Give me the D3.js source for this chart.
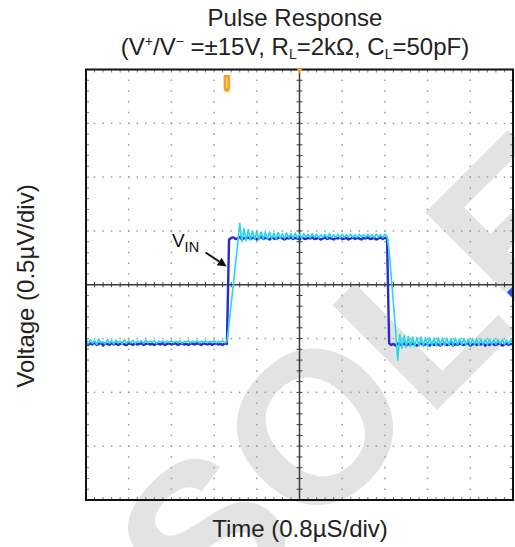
<!DOCTYPE html>
<html><head><meta charset="utf-8">
<script src="https://cdn.jsdelivr.net/npm/d3@7"></script>
<style>
body{margin:0;background:#fff}
svg{display:block;font-family:"Liberation Sans",Arial,Helvetica,sans-serif}
</style>
</head><body>
<svg id="c" width="515" height="547"></svg>
<script>
// ---------- data ----------
const titleLine1 = "Pulse Response";
const xLabel = "Time (0.8µS/div)";
const yLabel = "Voltage (0.5µV/div)";
const watermarkText = "OBSOLETE";
const timeDomain = [0, 8];          // µs  (10 div × 0.8 µs)
const voltDomain = [-2, 2];         // µV  (8 div × 0.5 µV)
const xDivTicks = [0, 0.8, 1.6, 2.4, 3.2, 4.0, 4.8, 5.6, 6.4, 7.2, 8.0];
const yDivTicks = [-2, -1.5, -1, -0.5, 0, 0.5, 1, 1.5, 2];
const minorPerDiv = 5;
const sampleStep = 0.04;            // µs between scope samples
const triggerTime = 2.64;
const ch2Offset = -0.07;
const vinLabelPos = [1.61, 0.35];
const vinArrowFrom = [2.24, 0.30];
const vinArrowTo = [2.635, 0.17];

// VIN trace (dark blue)
const vin = [
-0.54,-0.56,-0.545,-0.555,-0.535,-0.56,-0.55,-0.54,-0.565,-0.545,
-0.55,-0.56,-0.54,-0.555,-0.545,-0.56,-0.55,-0.54,-0.555,-0.56,
-0.545,-0.55,-0.56,-0.54,-0.555,-0.55,-0.545,-0.56,-0.55,-0.545,
-0.555,-0.55,-0.56,-0.545,-0.55,-0.555,-0.545,-0.56,-0.55,-0.545,
-0.555,-0.55,-0.545,-0.56,-0.55,-0.545,-0.555,-0.55,-0.56,-0.545,
-0.55,-0.555,-0.545,-0.55,-0.56,-0.545,-0.55,-0.555,-0.545,-0.56,
-0.55,-0.545,-0.555,-0.55,-0.56,-0.545,-0.55,
0.42,0.435,0.44,0.425,0.43,0.445,0.42,0.435,0.43,0.44,
0.425,0.435,0.44,0.42,0.43,0.445,0.425,0.435,0.43,0.42,
0.44,0.43,0.425,0.435,0.44,0.43,0.42,0.435,0.43,0.44,
0.425,0.435,0.43,0.42,0.44,0.43,0.425,0.435,0.43,0.44,
0.425,0.43,0.435,0.42,0.43,0.44,0.425,0.435,0.43,0.42,
0.435,0.43,0.44,0.425,0.43,0.435,0.42,0.43,0.44,0.425,
0.435,0.43,0.42,0.435,0.43,0.44,0.425,0.43,0.435,0.42,
0.43,0.44,0.425,0.435,0.43,
-0.545,-0.56,-0.55,-0.565,-0.545,-0.555,-0.56,-0.545,-0.565,-0.55,
-0.56,-0.545,-0.555,-0.565,-0.55,-0.545,-0.56,-0.555,-0.545,-0.565,
-0.55,-0.56,-0.545,-0.555,-0.565,-0.55,-0.545,-0.56,-0.555,-0.545,
-0.565,-0.55,-0.56,-0.545,-0.555,-0.56,-0.55,-0.545,-0.565,-0.555,
-0.545,-0.56,-0.55,-0.555,-0.545,-0.565,-0.55,-0.56,-0.545,-0.555,
-0.56,-0.55,-0.545,-0.565,-0.555,-0.545,-0.56,-0.55,-0.555
];

// VOUT trace (cyan)
const vout = [
-0.50,-0.55,-0.51,-0.545,-0.52,-0.555,-0.505,-0.54,-0.53,-0.55,
-0.51,-0.545,-0.52,-0.55,-0.515,-0.54,-0.525,-0.55,-0.51,-0.545,
-0.52,-0.54,-0.515,-0.545,-0.525,-0.535,-0.52,-0.545,-0.515,-0.54,
-0.525,-0.535,-0.52,-0.545,-0.525,-0.535,-0.52,-0.54,-0.525,-0.535,
-0.52,-0.54,-0.525,-0.535,-0.52,-0.545,-0.525,-0.535,-0.52,-0.54,
-0.525,-0.535,-0.52,-0.54,-0.525,-0.535,-0.52,-0.54,-0.525,-0.535,
-0.52,-0.54,-0.525,-0.535,-0.52,-0.54,-0.53,
-0.36,-0.175,0.0,0.19,0.37,0.57,
0.40,0.52,0.41,0.51,0.415,0.50,0.42,0.495,0.415,0.49,
0.425,0.485,0.42,0.49,0.43,0.48,0.425,0.485,0.43,0.475,
0.43,0.48,0.435,0.475,0.43,0.48,0.435,0.47,0.43,0.475,
0.44,0.47,0.435,0.475,0.44,0.47,0.435,0.465,0.44,0.47,
0.435,0.475,0.44,0.465,0.44,0.47,0.435,0.47,0.44,0.465,
0.445,0.47,0.44,0.465,0.44,0.47,0.445,0.465,0.44,0.47,
0.445,0.465,0.44,0.47,0.445,0.465,0.44,0.47,0.45,
0.31,0.07,-0.17,-0.42,-0.70,
-0.46,-0.59,-0.475,-0.58,-0.48,-0.575,-0.485,-0.575,-0.49,-0.57,
-0.485,-0.575,-0.49,-0.57,-0.49,-0.565,-0.495,-0.57,-0.49,-0.565,
-0.495,-0.565,-0.495,-0.56,-0.5,-0.565,-0.495,-0.56,-0.5,-0.56,
-0.5,-0.565,-0.505,-0.56,-0.5,-0.555,-0.505,-0.56,-0.505,-0.555,
-0.51,-0.56,-0.505,-0.555,-0.51,-0.555,-0.51,-0.55,-0.51,-0.555,
-0.515,-0.55,-0.51,-0.55
];

// ---------- layout ----------
const svg = d3.select("#c");
const W = 515, H = 547;
const plot = {left: 86, right: 513, top: 69.5, bottom: 500};
const x = d3.scaleLinear().domain(timeDomain).range([plot.left, plot.right]);
const y = d3.scaleLinear().domain(voltDomain).range([plot.bottom, plot.top]);
svg.append("rect").attr("width", W).attr("height", H).attr("fill", "#fff");

// watermark
const wm = svg.append("g");
const wmText = wm.append("text")
  .attr("font-size", 215).attr("font-weight", "bold")
  .attr("fill", "#e3e3e3")
  .text(watermarkText);
const probe = wm.append("text").attr("font-size", 215).attr("font-weight", "bold").text("OBSO");
const wOBSO = probe.node().getComputedTextLength();
probe.remove();
const Lpen = [427, 420];
const ang = -45 * Math.PI / 180;
const sx = Lpen[0] - wOBSO * Math.cos(ang), sy = Lpen[1] - wOBSO * Math.sin(ang);
wmText.attr("transform", `translate(${sx},${sy}) rotate(-45)`);

// minor positions
const xMinor = d3.range(0, 10 * minorPerDiv + 1).map(i => timeDomain[0] + i * 0.8 / minorPerDiv);
const yMinor = d3.range(0, 8 * minorPerDiv + 1).map(i => voltDomain[0] + i * 0.5 / minorPerDiv);

// dotted grid
const grid = svg.append("g").attr("fill", "#9c9c9c");
xDivTicks.slice(1, -1).forEach(t => {
  if (Math.abs(t - 4) < 1e-9) return;
  grid.selectAll(null).data(yMinor.slice(1, -1)).join("rect")
    .attr("x", x(t) - 0.75).attr("y", d => y(d) - 0.75).attr("width", 1.5).attr("height", 1.5);
});
yDivTicks.slice(1, -1).forEach(v => {
  if (Math.abs(v) < 1e-9) return;
  grid.selectAll(null).data(xMinor.slice(1, -1)).join("rect")
    .attr("x", d => x(d) - 0.75).attr("y", y(v) - 0.75).attr("width", 1.5).attr("height", 1.5);
});

// frame ticks
const ft = svg.append("g").attr("stroke", "#777").attr("stroke-width", 1);
xMinor.slice(1, -1).forEach(t => {
  ft.append("line").attr("x1", x(t)).attr("x2", x(t)).attr("y1", plot.top).attr("y2", plot.top + 3);
  ft.append("line").attr("x1", x(t)).attr("x2", x(t)).attr("y1", plot.bottom).attr("y2", plot.bottom - 3);
});
yMinor.slice(1, -1).forEach(v => {
  ft.append("line").attr("y1", y(v)).attr("y2", y(v)).attr("x1", plot.left).attr("x2", plot.left + 3);
  ft.append("line").attr("y1", y(v)).attr("y2", y(v)).attr("x1", plot.right).attr("x2", plot.right - 3);
});

// center axes with ticks
const ax = svg.append("g").attr("stroke", "#3a3a3a");
ax.append("line").attr("x1", plot.left).attr("x2", plot.right).attr("y1", y(0)).attr("y2", y(0)).attr("stroke-width", 1.5);
ax.append("line").attr("y1", plot.top).attr("y2", plot.bottom).attr("x1", x(4)).attr("x2", x(4)).attr("stroke-width", 1.5);
xMinor.forEach(t => ax.append("line").attr("x1", x(t)).attr("x2", x(t)).attr("y1", y(0) - 2.5).attr("y2", y(0) + 2.5).attr("stroke-width", 1));
yMinor.forEach(v => ax.append("line").attr("y1", y(v)).attr("y2", y(v)).attr("x1", x(4) - 3).attr("x2", x(4) + 3).attr("stroke-width", 1));

// traces
const pts = arr => arr.map((v, i) => ({t: i * sampleStep, v}));
const line = d3.line().x(d => x(d.t)).y(d => y(d.v));
svg.append("path").attr("d", line(pts(vin))).attr("fill", "none")
  .attr("stroke", "#2a2ad0").attr("stroke-width", 2.4).attr("stroke-linejoin", "round");
svg.append("path").attr("d", line(pts(vout))).attr("fill", "none")
  .attr("stroke", "#26d6ea").attr("stroke-width", 1.6).attr("stroke-linejoin", "round");

// frame
svg.append("rect").attr("x", plot.left).attr("y", plot.top)
  .attr("width", plot.right - plot.left).attr("height", plot.bottom - plot.top)
  .attr("fill", "none").attr("stroke", "#111").attr("stroke-width", 2);

// markers
const tx = x(triggerTime);
svg.append("path")
  .attr("d", `M${tx-3.3},75 L${tx+3.3},75 L${tx+3.3},87 Q${tx+3.3},92 ${tx},92 Q${tx-3.3},92 ${tx-3.3},87 Z`)
  .attr("fill", "#f5a324");
svg.append("line").attr("x1", tx).attr("x2", tx).attr("y1", 78).attr("y2", 88)
  .attr("stroke", "#fde3b0").attr("stroke-width", 1.3);
svg.append("path").attr("d", `M${x(4)-3},${plot.top-1} L${x(4)+3},${plot.top-1} L${x(4)},${plot.top+4} Z`).attr("fill", "#f5a324");
const gy = y(ch2Offset);
svg.append("path").attr("d", `M${plot.right-6},${gy} L${plot.right-1},${gy-5} L${plot.right-1},${gy+5} Z`).attr("fill", "#2b4fe0");

// VIN annotation
const lab = svg.append("text").attr("x", x(vinLabelPos[0])).attr("y", y(vinLabelPos[1]))
  .attr("font-size", 19).attr("fill", "#111");
lab.append("tspan").text("V");
lab.append("tspan").attr("font-size", 14.5).attr("dy", 5).text("IN");
const a0 = [x(vinArrowFrom[0]), y(vinArrowFrom[1])], a1 = [x(vinArrowTo[0]), y(vinArrowTo[1])];
const ad = Math.atan2(a1[1] - a0[1], a1[0] - a0[0]);
const hl = 9, hw = 4.5;
const base = [a1[0] - hl * Math.cos(ad), a1[1] - hl * Math.sin(ad)];
svg.append("line").attr("x1", a0[0]).attr("y1", a0[1]).attr("x2", base[0]).attr("y2", base[1])
  .attr("stroke", "#111").attr("stroke-width", 2);
svg.append("path").attr("d",
  `M${a1[0]},${a1[1]} L${base[0] + hw * Math.sin(ad)},${base[1] - hw * Math.cos(ad)} L${base[0] - hw * Math.sin(ad)},${base[1] + hw * Math.cos(ad)} Z`)
  .attr("fill", "#111");

// titles
svg.append("text").attr("x", 295).attr("y", 26).attr("text-anchor", "middle")
  .attr("font-size", 24).attr("fill", "#222").text(titleLine1);
const t2 = svg.append("text").attr("x", 295).attr("y", 55).attr("text-anchor", "middle")
  .attr("font-size", 24).attr("fill", "#222");
t2.append("tspan").text("(V");
t2.append("tspan").attr("font-size", 14).attr("dy", -9).text("+");
t2.append("tspan").attr("dy", 9).text("/V");
t2.append("tspan").attr("font-size", 14).attr("dy", -9).text("−");
t2.append("tspan").attr("dy", 9).text(" =±15V, R");
t2.append("tspan").attr("font-size", 14).attr("dy", 4).text("L");
t2.append("tspan").attr("dy", -4).text("=2kΩ, C");
t2.append("tspan").attr("font-size", 14).attr("dy", 4).text("L");
t2.append("tspan").attr("dy", -4).text("=50pF)");

svg.append("text").attr("x", 300).attr("y", 537).attr("text-anchor", "middle")
  .attr("font-size", 24).attr("fill", "#222").text(xLabel);
svg.append("text").attr("transform", "translate(34,286) rotate(-90)").attr("text-anchor", "middle")
  .attr("font-size", 24).attr("fill", "#222").text(yLabel);
</script>
</body></html>
